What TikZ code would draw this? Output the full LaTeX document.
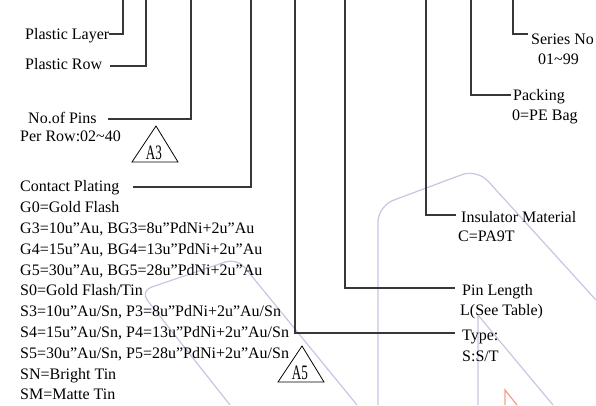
\documentclass[tikz,border=0pt]{standalone}
\usepackage{fontspec}
\setmainfont{Liberation Serif}
\definecolor{wmcol}{RGB}{198,198,226}
\definecolor{wmorange}{RGB}{246,160,140}
\definecolor{leadcol}{RGB}{55,55,55}
\tikzset{
  lbl/.style={anchor=base west, inner sep=0pt, font=\fontsize{16}{19}\selectfont},
  lead/.style={draw=leadcol, line width=1.1pt},
  wm/.style={draw=wmcol, line width=1.2pt},
  wmo/.style={draw=wmorange, line width=1.2pt},
  trimark/.style={draw=black, line width=0.8pt, line join=miter},
  trilbl/.style={anchor=base, inner sep=0pt, font=\fontsize{20.5}{22}\selectfont, xscale=0.64}
}
\begin{document}
\begin{tikzpicture}[x=1pt,y=-1pt]
\useasboundingbox (0,0) rectangle (596,405);
% watermark
\draw[wm, rounded corners=16] (378,405) -- (378,206) -- (477,169) -- (596,300);
\draw[wm, rounded corners=12] (230,405) -- (140,291) -- (237,258) -- (357,405);
\draw[wm] (478,405) -- (478,315) -- (553,405);
\draw[wmo] (505,405) -- (505,390) -- (517,405);
% left labels
\node[lbl] (pl) at (25,39) {Plastic Layer};
\node[lbl] (pr) at (25,69) {Plastic Row};
\node[lbl] (np) at (28,123) {No.of Pins};
\node[lbl] (npr) at (20,141) {Per Row:02\char`~40};
\node[lbl] (cp) at (20,191) {Contact Plating};
\node[lbl] (g0) at (20,212) {G0=Gold Flash};
\node[lbl] (g3) at (20,233) {G3=10u"Au, BG3=8u"PdNi+2u"Au};
\node[lbl] (g4) at (20,254) {G4=15u"Au, BG4=13u"PdNi+2u"Au};
\node[lbl] (g5) at (20,275) {G5=30u"Au, BG5=28u"PdNi+2u"Au};
\node[lbl] (s0) at (20,295) {S0=Gold Flash/Tin};
\node[lbl] (s3) at (20,316) {S3=10u"Au/Sn, P3=8u"PdNi+2u"Au/Sn};
\node[lbl] (s4) at (20,337) {S4=15u"Au/Sn, P4=13u"PdNi+2u"Au/Sn};
\node[lbl] (s5) at (20,358) {S5=30u"Au/Sn, P5=28u"PdNi+2u"Au/Sn};
\node[lbl] (sn) at (20,379) {SN=Bright Tin};
\node[lbl] (sm) at (20,399) {SM=Matte Tin};
% right labels
\node[lbl] (ser) at (531,44) {Series No};
\node[lbl] (ser2) at (538,64) {01\char`~99};
\node[lbl] (pk) at (513,100) {Packing};
\node[lbl] (pk2) at (512,120) {0=PE Bag};
\node[lbl] (im) at (461,222) {Insulator Material};
\node[lbl] (im2) at (458,241) {C=PA9T};
\node[lbl] (pln) at (462,295) {Pin Length};
\node[lbl] (pln2) at (460,315) {L(See Table)};
\node[lbl] (ty) at (462,340) {Type:};
\node[lbl] (ty2) at (462,361) {S:S/T};
% leader coordinates
\coordinate (t1) at (123,0);  \coordinate (e1) at (109,34);
\coordinate (t2) at (146,0);  \coordinate (e2) at (110,66);
\coordinate (t3) at (191,0);  \coordinate (e3) at (108,119);
\coordinate (t4) at (251,0);  \coordinate (e4) at (133,187);
\coordinate (t5) at (295,0);  \coordinate (e5) at (455,333);
\coordinate (t6) at (345,0);  \coordinate (e6) at (455,288);
\coordinate (t7) at (426,0);  \coordinate (e7) at (456,215);
\coordinate (t8) at (471,0);  \coordinate (e8) at (511,95);
\coordinate (t9) at (513,0);  \coordinate (e9) at (528,34);
\foreach \i in {1,...,9} { \draw[lead] (t\i) |- (e\i); }
% triangle marks
\draw[trimark] (156,126) -- (178,162) -- (132,162) -- cycle;
\node[trilbl] (a3) at (154,159.5) {A3};
\draw[trimark] (302,346) -- (324,382) -- (278,382) -- cycle;
\node[trilbl] (a5) at (300,379.5) {A5};
\end{tikzpicture}
\end{document}
